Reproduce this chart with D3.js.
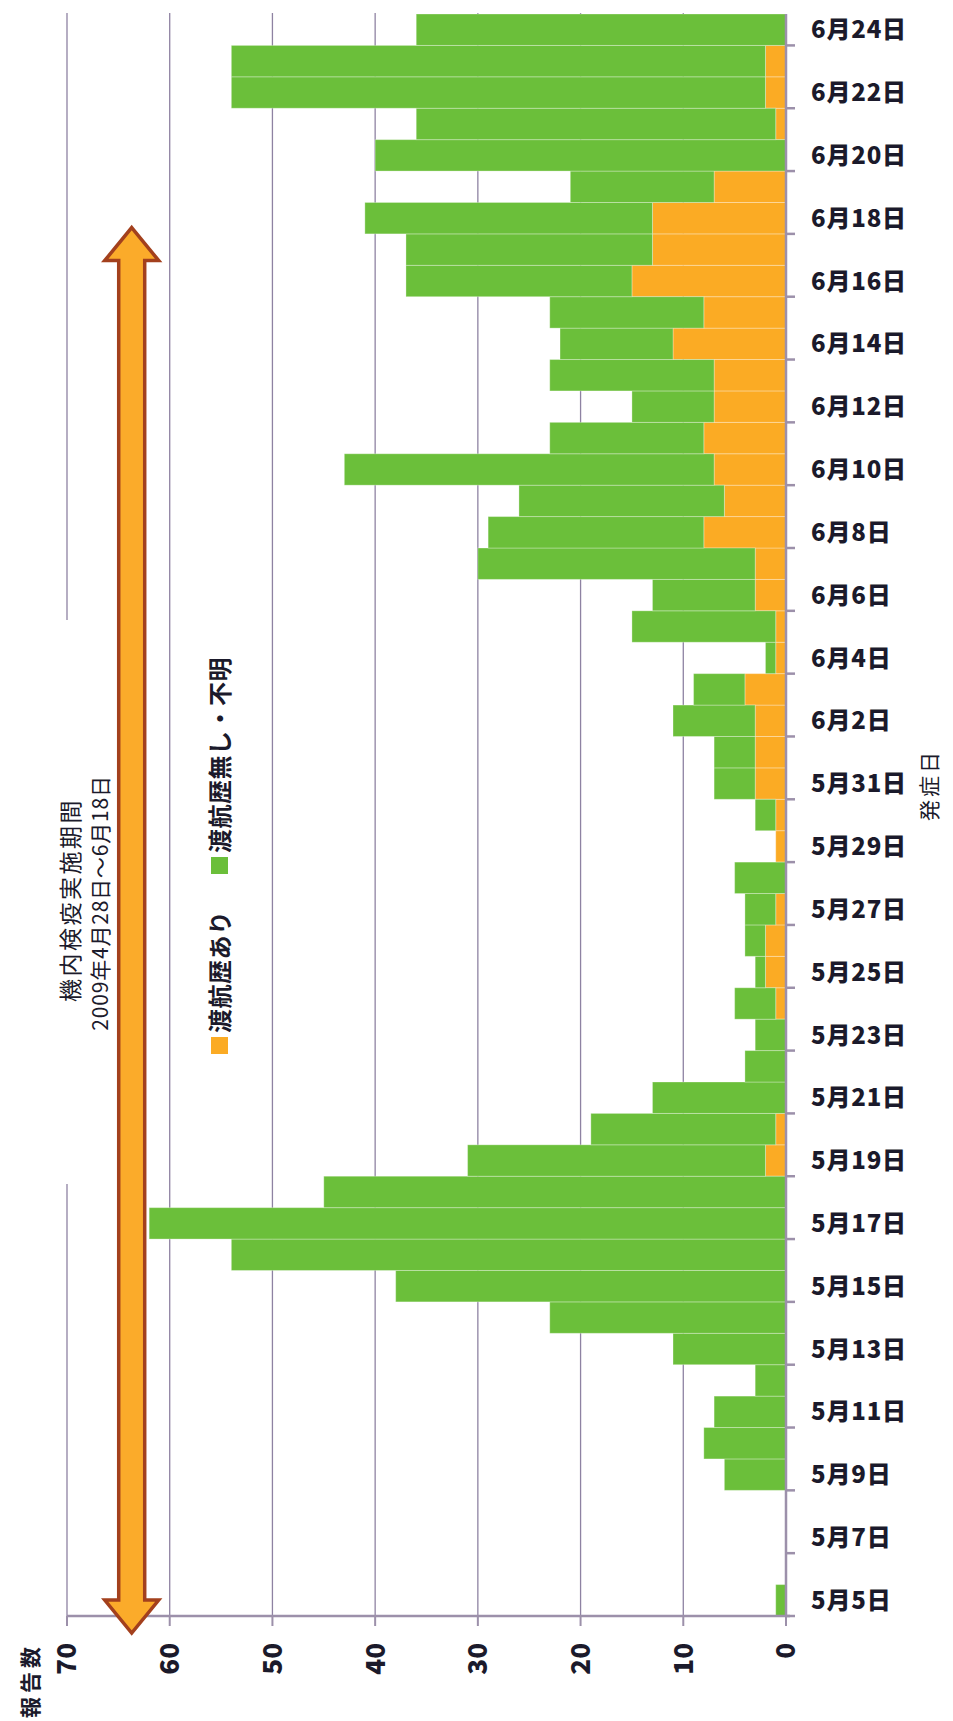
<!DOCTYPE html>
<html>
<head>
<meta charset="utf-8">
<script src="https://cdnjs.cloudflare.com/ajax/libs/d3/7.8.5/d3.min.js"></script>
<style>
  body { margin: 0; background: #fff; }
  text { font-family: "Noto Sans CJK JP", "Noto Sans", sans-serif; fill: #1b1a2b; }
</style>
</head>
<body>
<script>
// 発症日 (onset date), 5/5 .. 6/24
var dates = ["5月5日","5月6日","5月7日","5月8日","5月9日","5月10日","5月11日","5月12日","5月13日","5月14日",
  "5月15日","5月16日","5月17日","5月18日","5月19日","5月20日","5月21日","5月22日","5月23日","5月24日",
  "5月25日","5月26日","5月27日","5月28日","5月29日","5月30日","5月31日","6月1日","6月2日","6月3日",
  "6月4日","6月5日","6月6日","6月7日","6月8日","6月9日","6月10日","6月11日","6月12日","6月13日",
  "6月14日","6月15日","6月16日","6月17日","6月18日","6月19日","6月20日","6月21日","6月22日","6月23日","6月24日"];

// 渡航歴あり
var travelYes = [0,0,0,0,0,0,0,0,0,0, 0,0,0,0,2,1,0,0,0,1, 2,2,1,0,1,1,3,3,3,4,
  1,1,3,3,8,6,7,8,7,7, 11,8,15,13,13,7,0,1,2,2,0];

// 渡航歴無し・不明
var travelNo = [1,0,0,0,6,8,7,3,11,23, 38,54,62,45,29,18,13,4,3,4, 1,2,3,5,0,2,4,4,8,5,
  1,14,10,27,21,20,36,15,8,16, 11,15,22,24,28,14,40,35,52,52,36];

var valueTicks = [0,10,20,30,40,50,60,70];
var seriesNames = ["渡航歴あり", "渡航歴無し・不明"];
var titleLines = ["機内検疫実施期間", "2009年4月28日～6月18日"];

var width = 953, height = 1721;
var green = "#6bbf3a", orange = "#fbab24", gridCol = "#8e82a2";

var svg = d3.select("body").append("svg")
    .attr("width", width)
    .attr("height", height);

svg.append("rect").attr("width", width).attr("height", height).attr("fill", "#fff");

var plotTop = 14, plotBottom = 1616;

var x = d3.scaleLinear().domain([0, 70]).range([786, 67]);
var y = d3.scaleBand().domain(dates).range([plotBottom, plotTop]).padding(0);

var rows = dates.map(function(d, i) {
  return {date: d, yes: travelYes[i], no: travelNo[i]};
});
var stack = d3.stack().keys(["yes", "no"])(rows);

// gridlines
svg.append("g").selectAll("line")
    .data(valueTicks.filter(function(v) { return v > 0; }))
  .enter().append("line")
    .attr("x1", function(v) { return x(v); })
    .attr("x2", function(v) { return x(v); })
    .attr("y1", plotTop - 1)
    .attr("y2", plotBottom)
    .attr("stroke", gridCol)
    .attr("stroke-width", 1.3);

// bars
var colors = {yes: orange, no: green};
svg.append("g").selectAll("g")
    .data(stack)
  .enter().append("g")
    .attr("fill", function(s) { return colors[s.key]; })
  .selectAll("rect")
    .data(function(s) { return s.filter(function(p) { return p[1] > p[0]; }); })
  .enter().append("rect")
    .attr("x", function(p) { return x(p[1]); })
    .attr("width", function(p) { return x(p[0]) - x(p[1]); })
    .attr("y", function(p) { return y(p.data.date); })
    .attr("height", y.bandwidth())
    .attr("stroke", "#ffffff")
    .attr("stroke-opacity", 0.3)
    .attr("stroke-width", 1);

// value axis (bottom, rotated labels)
var xAxis = svg.append("g")
    .attr("transform", "translate(0," + plotBottom + ")");
xAxis.append("line")
    .attr("x1", x(70)).attr("x2", x(0) + 4)
    .attr("stroke", "#9c90aa").attr("stroke-width", 2.5);
xAxis.selectAll(".tick")
    .data(valueTicks)
  .enter().append("line")
    .attr("x1", function(v) { return x(v); })
    .attr("x2", function(v) { return x(v); })
    .attr("y1", 0).attr("y2", 10)
    .attr("stroke", "#9c90aa").attr("stroke-width", 2);
xAxis.selectAll("text")
    .data(valueTicks)
  .enter().append("text")
    .attr("transform", function(v) { return "translate(" + x(v) + ",27) rotate(-90)"; })
    .attr("text-anchor", "end")
    .attr("dy", "0.36em")
    .attr("font-size", 26)
    .attr("font-weight", 900)
    .text(function(v) { return v; });

svg.append("text")
    .attr("transform", "translate(30,1643) rotate(-90)")
    .attr("text-anchor", "end")
    .attr("dy", "0.36em")
    .attr("font-size", 21)
    .attr("font-weight", 700)
    .attr("letter-spacing", 4)
    .text("報告数");

// category axis (right side)
var yAxis = svg.append("g");
yAxis.append("line")
    .attr("x1", x(0)).attr("x2", x(0))
    .attr("y1", plotTop).attr("y2", plotBottom)
    .attr("stroke", "#9c90aa").attr("stroke-width", 2.5);

var shown = dates.filter(function(d, i) { return i % 2 === 0; });
yAxis.selectAll(".tick")
    .data(shown)
  .enter().append("line")
    .attr("x1", x(0)).attr("x2", x(0) + 9)
    .attr("y1", function(d) { return y(d) + y.bandwidth(); })
    .attr("y2", function(d) { return y(d) + y.bandwidth(); })
    .attr("stroke", "#9c90aa").attr("stroke-width", 2.5);
yAxis.selectAll("text")
    .data(shown)
  .enter().append("text")
    .attr("x", 811)
    .attr("y", function(d) { return y(d) + y.bandwidth() / 2; })
    .attr("dy", "0.36em")
    .attr("font-size", 24)
    .attr("font-weight", 900)
    .attr("letter-spacing", 0.8)
    .text(function(d) { return d; });

svg.append("text")
    .attr("transform", "translate(929,785) rotate(-90)")
    .attr("text-anchor", "middle")
    .attr("dy", "0.36em")
    .attr("font-size", 21)
    .attr("letter-spacing", 3)
    .text("発症日");

// title box over the top gridline
svg.append("rect")
    .attr("x", 50).attr("y", 620)
    .attr("width", 62).attr("height", 564)
    .attr("fill", "#fff");
svg.selectAll(".title")
    .data(titleLines)
  .enter().append("text")
    .attr("transform", function(d, i) { return "translate(" + (71 + i * 29) + "," + (900 + i * 3) + ") rotate(-90)"; })
    .attr("text-anchor", "middle")
    .attr("dy", "0.36em")
    .attr("font-size", function(d, i) { return i === 0 ? 23 : 21; })
    .attr("letter-spacing", function(d, i) { return i === 0 ? 2.5 : 0.8; })
    .text(function(d) { return d; });

// arrow for the inspection period
var ax = x(63.7), aTop = y("6月18日") + y.bandwidth() * 0.8, aBot = plotBottom + 17;
var hw = 27, sw = 13, hl = 33;
var arrowPts = [
  [ax, aTop], [ax + hw, aTop + hl], [ax + sw, aTop + hl], [ax + sw, aBot - hl],
  [ax + hw, aBot - hl], [ax, aBot], [ax - hw, aBot - hl], [ax - sw, aBot - hl],
  [ax - sw, aTop + hl], [ax - hw, aTop + hl]
];
svg.append("path")
    .attr("d", d3.line()(arrowPts) + "Z")
    .attr("fill", "#fbab2a")
    .attr("stroke", "#a3401d")
    .attr("stroke-width", 3.5)
    .attr("stroke-linejoin", "miter");

// legend
var legend = svg.append("g");
var legendPos = [{sq: 1046, txt: 1033}, {sq: 866, txt: 853}];
legend.selectAll("rect")
    .data(seriesNames)
  .enter().append("rect")
    .attr("x", 211)
    .attr("y", function(d, i) { return legendPos[i].sq - 9; })
    .attr("width", 17).attr("height", 17)
    .attr("fill", function(d, i) { return i === 0 ? orange : green; });
legend.selectAll("text")
    .data(seriesNames)
  .enter().append("text")
    .attr("transform", function(d, i) { return "translate(220," + legendPos[i].txt + ") rotate(-90)"; })
    .attr("dy", "0.36em")
    .attr("font-size", 24)
    .attr("font-weight", 700)
    .attr("letter-spacing", 0.5)
    .text(function(d) { return d; });
</script>
</body>
</html>
